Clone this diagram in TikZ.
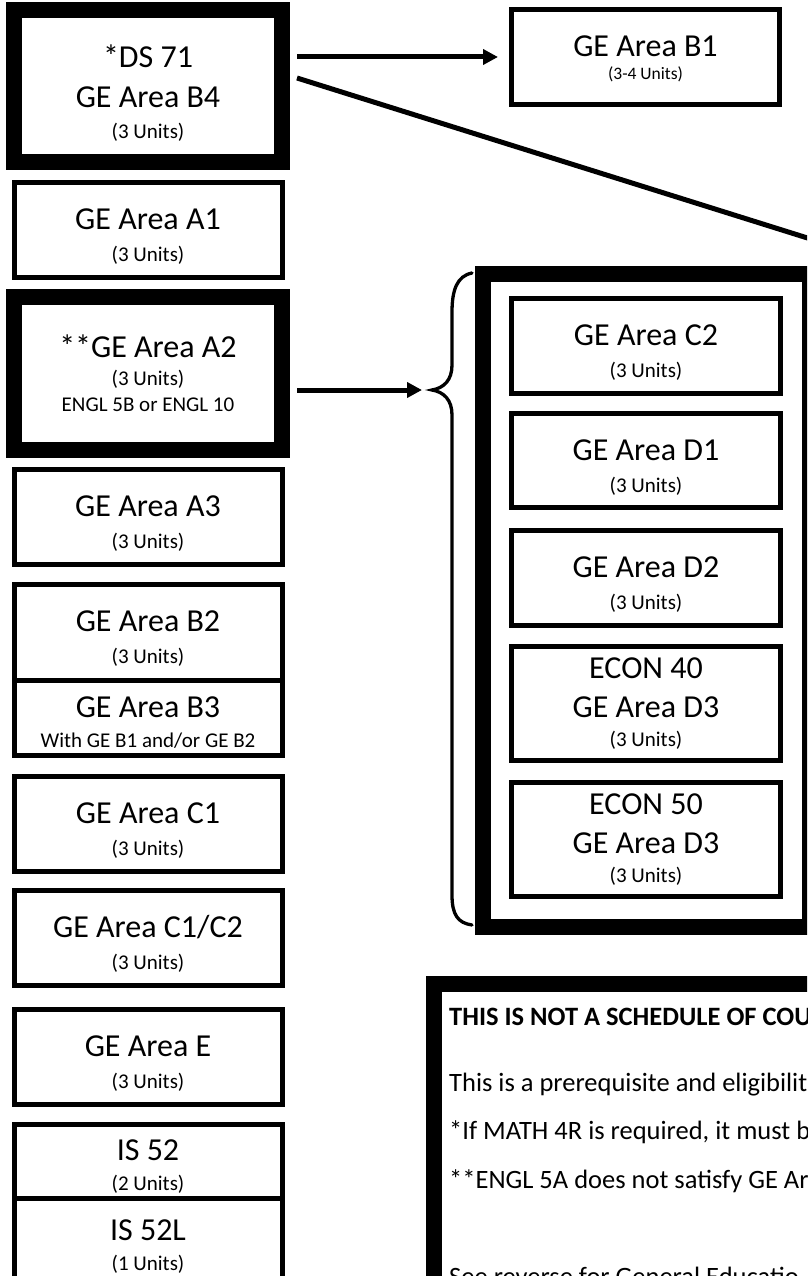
\documentclass[tikz,border=0pt]{standalone}
\usepackage{fontspec}
\setmainfont{Carlito}
\usetikzlibrary{positioning,arrows.meta}

\newcommand{\units}[1]{{\fontsize{21}{25}\selectfont #1}}
% first line lowered by a strut, as in the original boxes
\newcommand{\twoline}[2]{\rule{0pt}{34pt}#1\\[-6pt]\units{#2}}
\newcommand{\shortline}[2]{\rule{0pt}{31pt}#1\\[-8pt]\units{#2}}

\begin{document}
\begin{tikzpicture}[x=1pt,y=-1pt,
    course/.style={draw, line width=5pt, minimum width=268pt, minimum height=95pt,
        inner sep=0pt, align=center, font=\fontsize{32}{38}\selectfont},
    keycourse/.style={course, line width=16pt},
    notetext/.style={anchor=base west, inner sep=0pt, font=\fontsize{26.5}{32}\selectfont},
    arr/.style={line width=5pt, -{Triangle[length=15pt,width=15pt]}}]

    \useasboundingbox[fill=white] (0,0) rectangle (807,1276);
    \clip (0,0) rectangle (807,1276);

    % left column
    \node[keycourse, minimum height=152pt] (ds71) at (148,86) {\rule{0pt}{37pt}*DS 71\\[2pt]GE Area B4\\[-7pt]\units{(3 Units)}};
    \node[course, below=10pt of ds71] (a1) {\twoline{GE Area A1}{(3 Units)}};
    \node[keycourse, minimum height=153pt, below=9pt of a1] (a2) {**GE Area A2\\[-10pt]\units{(3 Units)}\\[-12pt]\units{ENGL 5B or ENGL 10}};
    \node[course, below=9pt of a2] (a3) {\twoline{GE Area A3}{(3 Units)}};
    \node[course, minimum height=95.5pt, below=15pt of a3] (b2) {\twoline{GE Area B2}{(3 Units)}};
    \node[course, minimum height=75.5pt, below=-5pt of b2] (b3) {\shortline{GE Area B3}{With GE B1 and/or GE B2}};
    \node[course, below=16pt of b3] (c1) {\twoline{GE Area C1}{(3 Units)}};
    \node[course, below=14pt of c1] (c1c2) {\twoline{GE Area C1/C2}{(3 Units)}};
    \node[course, below=19pt of c1c2] (gee) {\twoline{GE Area E}{(3 Units)}};
    \node[course, minimum height=73.5pt, below=15pt of gee] (is52) {\shortline{IS 52}{(2 Units)}};
    \node[course, minimum height=86pt, below=-5pt of is52] (is52l) {\shortline{IS 52L}{(1 Units)}};

    % right column
    \node[course] (b1) at (645.5,57) {\rule{0pt}{25pt}GE Area B1\\[-15pt]{\fontsize{17.5}{20}\selectfont (3-4 Units)}};
    \node[keycourse, minimum width=327pt, minimum height=653pt] (group) at (646.5,600.5) {};
    \node[course, minimum width=269pt] (c2) at (646,346) {\twoline{GE Area C2}{(3 Units)}};
    \node[course, minimum width=269pt, minimum height=94pt, below=15pt of c2] (d1) {\twoline{GE Area D1}{(3 Units)}};
    \node[course, minimum width=269pt, below=18pt of d1] (d2) {\twoline{GE Area D2}{(3 Units)}};
    \node[course, minimum width=269pt, minimum height=114pt, below=16pt of d2] (econ40) {ECON 40\\[1pt]GE Area D3\\[-9pt]\units{(3 Units)}};
    \node[course, minimum width=269pt, minimum height=114pt, below=17pt of econ40] (econ50) {ECON 50\\[1pt]GE Area D3\\[-9pt]\units{(3 Units)}};

    % notes
    \node[keycourse, minimum width=466pt, minimum height=416pt] (note) at (667,1192) {};
    \node[notetext] (note1) at (449,1025) {\textbf{THIS IS NOT A SCHEDULE OF COU}};
    \node[notetext] (note2) at (449,1091) {This is a prerequisite and eligibilit};
    \node[notetext] (note3) at (449,1139) {*If MATH 4R is required, it must b};
    \node[notetext] (note4) at (449,1188) {**ENGL 5A does not satisfy GE Ar};
    \node[notetext] (note5) at (449,1285) {See reverse for General Educatio};

    \coordinate (bracetip) at (432,390);
    \coordinate (offpage) at (900,267);

    \draw[arr] ([xshift=7pt]ds71.east |- b1.west) -- ([xshift=-11pt]b1.west);
    \draw[line width=5pt] ([xshift=7pt,yshift=8pt]ds71.east) -- (offpage);
    \draw[arr] ([xshift=7pt]a2.east |- bracetip) -- ([xshift=-10pt]bracetip);

    % brace
    \draw[line width=3.3pt, line cap=round] (472,273) .. controls (457,276) and (452,290) .. (452,312)
        -- (452,365) .. controls (452,380) and (444,388) .. (bracetip)
        .. controls (444,392) and (452,400) .. (452,415)
        -- (452,895) .. controls (452,915) and (458,923) .. (472,925);

\end{tikzpicture}
\end{document}
